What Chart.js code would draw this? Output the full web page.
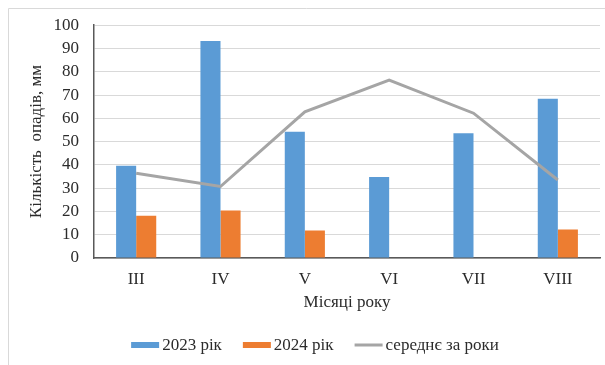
<!DOCTYPE html>
<html>
<head>
<meta charset="utf-8">
<script src="https://cdn.jsdelivr.net/npm/chart.js@4/dist/chart.umd.min.js"></script>
<style>
html, body { margin: 0; padding: 0; background: #fff; }
#wrap { width: 605px; height: 365px; position: relative; }
</style>
</head>
<body>
<div id="wrap"><canvas id="chart" width="605" height="365"></canvas></div>
<script>
// Data
const months = ['III', 'IV', 'V', 'VI', 'VII', 'VIII'];
const rain2023 = [39.6, 93.2, 54.2, 34.8, 53.6, 68.4];
const rain2024 = [18.2, 20.4, 11.8, null, null, 12.2];
const rainMean = [36.4, 30.7, 62.8, 76.4, 62.2, 33.5];
const yTicks = [0, 10, 20, 30, 40, 50, 60, 70, 80, 90, 100];

const FONT = '"Liberation Serif", "Times New Roman", serif';
const TEXT = '#2b2b2b';
const SIZE = 17;

// outer frame (only left and top edges are visible in the crop)
const framePlugin = {
    id: 'frame',
    beforeDraw(chart) {
        const ctx = chart.ctx;
        ctx.save();
        ctx.strokeStyle = '#d9d9d9';
        ctx.lineWidth = 1;
        ctx.beginPath();
        ctx.moveTo(8.5, 365);
        ctx.lineTo(8.5, 8.5);
        ctx.lineTo(605, 8.5);
        ctx.stroke();
        ctx.restore();
    }
};

// legend drawn by hand to match spacing of the original
const legendPlugin = {
    id: 'bottomLegend',
    afterDraw(chart) {
        const ctx = chart.ctx;
        ctx.save();
        ctx.font = SIZE + 'px ' + FONT;
        ctx.textBaseline = 'middle';
        const sets = chart.data.datasets;
        const boxW = 28, gapText = 3, gapItem = 21, cy = 345;
        const widths = sets.map(d => boxW + gapText + ctx.measureText(d.label).width);
        const total = widths.reduce((s, w) => s + w, 0) + gapItem * (sets.length - 1);
        let x = 315 - total / 2;
        sets.forEach((d, i) => {
            if (d.type === 'line') {
                ctx.strokeStyle = d.borderColor;
                ctx.lineWidth = 3;
                ctx.beginPath();
                ctx.moveTo(x, cy);
                ctx.lineTo(x + boxW, cy);
                ctx.stroke();
            } else {
                ctx.fillStyle = d.backgroundColor;
                ctx.fillRect(x, cy - 3, boxW, 6);
            }
            ctx.fillStyle = TEXT;
            ctx.fillText(d.label, x + boxW + gapText, cy + 1);
            x += widths[i] + gapItem;
        });
        ctx.restore();
    }
};

new Chart(document.getElementById('chart'), {
    data: {
        labels: months,
        datasets: [
            { type: 'bar', label: '2023 рік', data: rain2023, backgroundColor: '#5b9bd5', order: 1,
              barPercentage: 1, categoryPercentage: 0.476 },
            { type: 'bar', label: '2024 рік', data: rain2024, backgroundColor: '#ed7d31', order: 1,
              barPercentage: 1, categoryPercentage: 0.476 },
            { type: 'line', label: 'середнє за роки', data: rainMean, borderColor: '#a5a5a5', borderWidth: 3,
              pointRadius: 0, tension: 0, order: 0 }
        ]
    },
    options: {
        responsive: false,
        animation: false,
        layout: { padding: { left: 0, right: 5, top: 25, bottom: 0 } },
        plugins: { legend: { display: false }, tooltip: { enabled: false } },
        scales: {
            x: {
                grid: { display: false, drawTicks: false },
                border: { color: '#595959', width: 1.5 },
                ticks: { color: TEXT, font: { family: FONT, size: SIZE }, padding: 11 },
                title: { display: true, text: 'Місяці року', color: TEXT, font: { family: FONT, size: SIZE },
                         padding: { top: 0, bottom: 52 } },
                afterFit: s => { s.height = 107; }
            },
            y: {
                min: 0, max: 100,
                afterBuildTicks: s => { s.ticks = yTicks.map(v => ({ value: v })); },
                grid: { color: '#d9d9d9', lineWidth: 1, drawTicks: false },
                border: { color: '#595959', width: 1.5 },
                ticks: { color: TEXT, font: { family: FONT, size: SIZE }, padding: 15, autoSkip: false },
                title: { display: true, text: 'Кількість  опадів, мм', color: TEXT, font: { family: FONT, size: SIZE },
                         padding: { top: 26, bottom: 0 } },
                afterFit: s => { s.width = 94; }
            }
        }
    },
    plugins: [framePlugin, legendPlugin]
});
</script>
</body>
</html>
